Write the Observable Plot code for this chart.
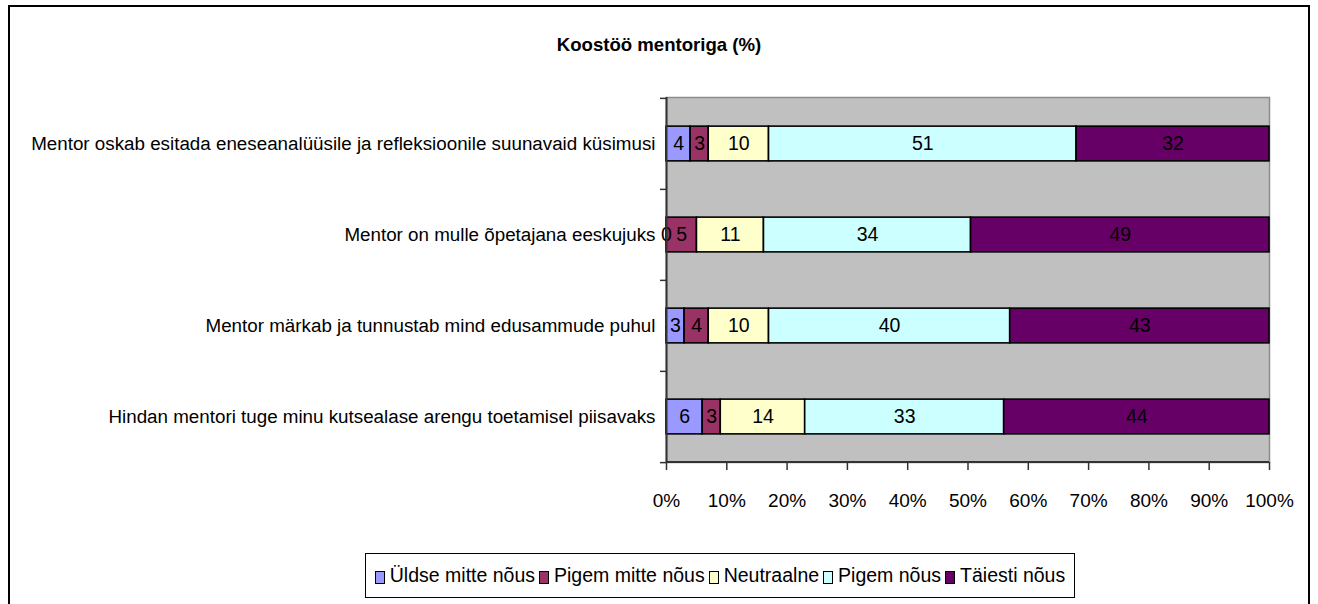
<!DOCTYPE html>
<html>
<head>
<meta charset="utf-8">
<script src="https://cdn.jsdelivr.net/npm/d3@7"></script>
<script src="https://cdn.jsdelivr.net/npm/@observablehq/plot@0.6"></script>
<style>
  html, body { margin: 0; padding: 0; background: #fff; }
  #wrap { position: relative; width: 1318px; height: 604px; overflow: hidden;
          font-family: "Liberation Sans", Arial, sans-serif; }
  #frame { position: absolute; left: 8px; top: 5px; width: 1302px; height: 700px;
           border: 2px solid #000; box-sizing: border-box; }
  #title { position: absolute; left: 0; width: 1318px; top: 34px; text-align: center;
           font-weight: bold; font-size: 18.6px; color: #000; }
  #chart { position: absolute; left: 0; top: 0; }
  #legend { position: absolute; left: 365px; top: 553px; width: 710px; height: 45px;
            border: 1px solid #000; box-sizing: border-box; display: flex;
            align-items: center; justify-content: center; font-size: 19.5px; color: #000; white-space: nowrap; }
  #legend .item { display: inline-flex; align-items: center; margin: 0 2px; }
  #legend .sw { display: inline-block; width: 8px; height: 11px; border: 1px solid #000; margin-right: 5px; margin-top: 3px; }
</style>
</head>
<body>
<div id="wrap">
  <div id="frame"></div>
  <div id="chart"></div>
  <div id="title">Koostöö mentoriga (%)</div>
  <div id="legend"></div>
</div>
<script>
const categories = [
  "Mentor oskab esitada eneseanalüüsile ja refleksioonile suunavaid küsimusi",
  "Mentor on mulle õpetajana eeskujuks",
  "Mentor märkab ja tunnustab mind edusammude puhul",
  "Hindan mentori tuge minu kutsealase arengu toetamisel piisavaks"
];
const seriesNames = ["Üldse mitte nõus", "Pigem mitte nõus", "Neutraalne", "Pigem nõus", "Täiesti nõus"];
const seriesColors = ["#9999FF", "#993366", "#FFFFCC", "#CCFFFF", "#660066"];
const uldseMitte = [4, 0, 3, 6];
const pigemMitte = [3, 5, 4, 3];
const neutraalne = [10, 11, 10, 14];
const pigemNous = [51, 34, 40, 33];
const taiestiNous = [32, 49, 43, 44];
const xTicks = [0, 0.1, 0.2, 0.3, 0.4, 0.5, 0.6, 0.7, 0.8, 0.9, 1];

const seriesValues = [uldseMitte, pigemMitte, neutraalne, pigemNous, taiestiNous];
const rows = [];
categories.forEach((c, i) => {
  seriesNames.forEach((s, j) => rows.push({category: c, series: s, value: seriesValues[j][i]}));
});

const FONT = '"Liberation Sans", Arial, sans-serif';
const W = 1318, H = 525;
const mTop = 97, mBottom = H - 462, mLeft = 666, mRight = W - 1269;
const band = (H - mTop - mBottom) / categories.length;

const stackOpts = {y: "category", x: "value", z: "series", order: seriesNames, offset: "normalize"};

const chart = Plot.plot({
  width: W, height: H,
  marginTop: mTop, marginBottom: mBottom, marginLeft: mLeft, marginRight: mRight,
  style: {fontFamily: FONT, fontSize: "19px", color: "#000", background: "transparent", overflow: "visible"},
  x: {domain: [0, 1]},
  y: {domain: categories, padding: 0},
  color: {domain: seriesNames, range: seriesColors},
  marks: [
    Plot.frame({fill: "#C0C0C0", stroke: "#8c8c8c", strokeWidth: 1.5}),
    Plot.barX(rows, Plot.stackX({
      ...stackOpts, fill: "series", stroke: "#000", strokeWidth: 1.6,
      insetTop: (band - 35) / 2, insetBottom: (band - 35) / 2
    })),
    Plot.text(rows, Plot.stackX({
      ...stackOpts, text: d => String(d.value), fill: "#000", fontSize: 19.5
    })),
    Plot.axisY({tickSize: 0, tickPadding: 11, fontSize: 18.8, label: null}),
    Plot.axisY({tickSize: 6, tickFormat: () => "", dy: -band / 2, label: null, stroke: "#333", strokeWidth: 1.5}),
    Plot.axisY({ticks: [categories[categories.length - 1]], tickSize: 6, tickFormat: () => "", dy: band / 2, label: null, stroke: "#333", strokeWidth: 1.5}),
    Plot.axisX({ticks: xTicks, tickFormat: d3.format(".0%"), tickSize: 8, tickPadding: 23, fontSize: 19, label: null, stroke: "#333", strokeWidth: 1.5}),
    Plot.ruleX([0], {stroke: "#333", strokeWidth: 2})
  ]
});
document.getElementById("chart").appendChild(chart);

// bottom axis line
d3.select(chart).append("line")
  .attr("x1", mLeft).attr("x2", W - mRight).attr("y1", H - mBottom).attr("y2", H - mBottom)
  .attr("stroke", "#333").attr("stroke-width", 2);

const legend = document.getElementById("legend");
seriesNames.forEach((s, i) => {
  const it = document.createElement("span");
  it.className = "item";
  const sw = document.createElement("span");
  sw.className = "sw";
  sw.style.background = seriesColors[i];
  it.appendChild(sw);
  it.appendChild(document.createTextNode(s));
  legend.appendChild(it);
});
</script>
</body>
</html>
